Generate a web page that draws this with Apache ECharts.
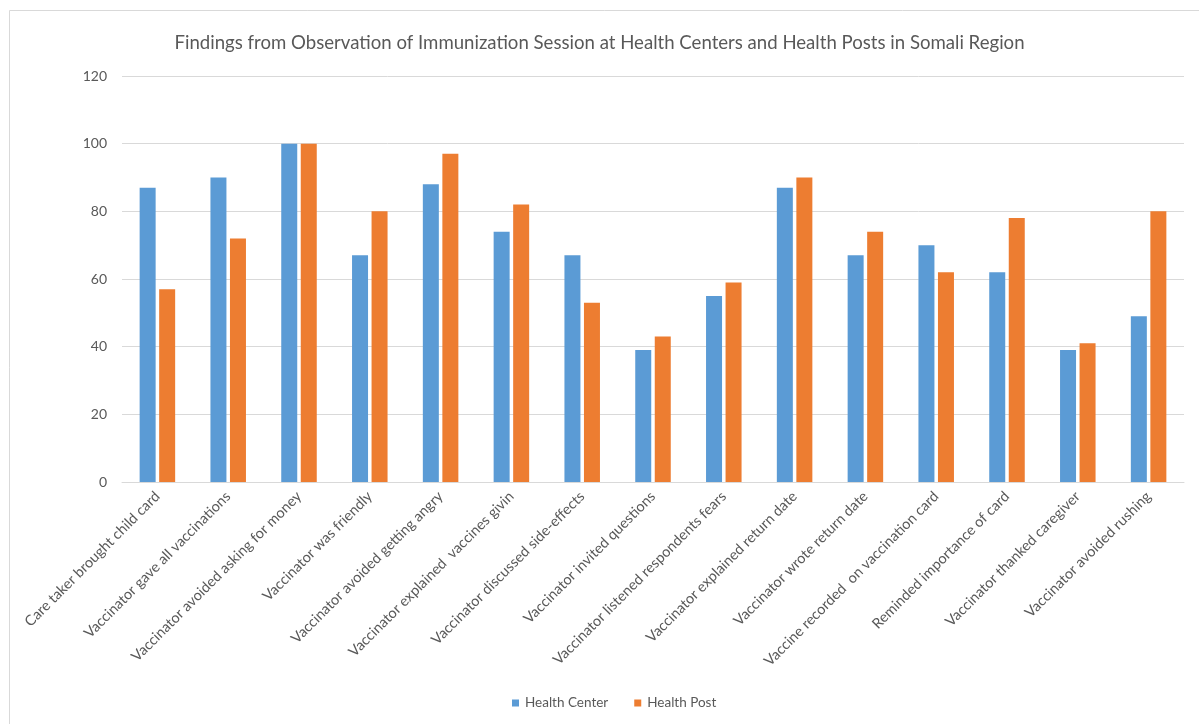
<!DOCTYPE html>
<html>
<head>
<meta charset="utf-8">
<script src="https://cdn.jsdelivr.net/npm/echarts@6/dist/echarts.min.js"></script>
<style>
html,body{margin:0;padding:0;background:#fff;}
#chart{width:1199px;height:724px;}
</style>
</head>
<body>
<div id="chart"></div>
<script>
const titleText = "Findings from Observation of Immunization Session at Health Centers and Health Posts in Somali Region";
const categories = [
  "Care taker brought child card",
  "Vaccinator gave all vaccinations",
  "Vaccinator avoided asking for money",
  "Vaccinator was friendly",
  "Vaccinator avoided getting angry",
  "Vaccinator explained  vaccines givin",
  "Vaccinator discussed side-effects",
  "Vaccinator invited questions",
  "Vaccinator listened respondents fears",
  "Vaccinator explained return date",
  "Vaccinator wrote return date",
  "Vaccine recorded  on vaccination card",
  "Reminded importance of card",
  "Vaccinator thanked caregiver",
  "Vaccinator avoided rushing"
];
const healthCenter = [87, 90, 100, 67, 88, 74, 67, 39, 55, 87, 67, 70, 62, 39, 49];
const healthPost   = [57, 72, 100, 80, 97, 82, 53, 43, 59, 90, 74, 62, 78, 41, 80];
const seriesNames = ["Health Center", "Health Post"];
const yTicks = {min: 0, max: 120, interval: 20};

const FONT = "Lato, 'Open Sans', sans-serif";
const TXT = "#595959";
const chart = echarts.init(document.getElementById('chart'));
chart.setOption({
  backgroundColor: '#ffffff',
  animation: false,
  graphic: [{
    type: 'rect', silent: true,
    shape: {x: 9.5, y: 10.5, width: 1300, height: 800},
    style: {fill: 'none', stroke: '#d9d9d9', lineWidth: 1}
  }],
  title: {
    text: titleText, left: 'center', top: 28,
    textStyle: {fontFamily: FONT, fontSize: 18.6, fontWeight: 'normal', color: TXT}
  },
  legend: {
    data: seriesNames, bottom: 9, left: 507,
    icon: 'rect', itemWidth: 7, itemHeight: 7, itemGap: 26,
    textStyle: {fontFamily: FONT, fontSize: 13.5, color: TXT, padding: [0,0,0,1]}
  },
  grid: {left: 122, right: 15, top: 76, bottom: 242, containLabel: false},
  xAxis: {
    type: 'category', data: categories,
    axisLine: {lineStyle: {color: '#d9d9d9'}},
    axisTick: {show: false},
    axisLabel: {rotate: 45, interval: 0, fontFamily: FONT, fontSize: 14.5, color: TXT, margin: 12}
  },
  yAxis: {
    type: 'value', min: yTicks.min, max: yTicks.max, interval: yTicks.interval,
    axisLine: {show: false}, axisTick: {show: false},
    splitLine: {lineStyle: {color: '#d9d9d9'}},
    axisLabel: {fontFamily: FONT, fontSize: 14, color: TXT, margin: 15, padding: [5,0,0,0]}
  },
  series: [
    {name: seriesNames[0], type: 'bar', data: healthCenter, barWidth: 16, barGap: '22%', itemStyle: {color: '#5b9bd5'}},
    {name: seriesNames[1], type: 'bar', data: healthPost, barWidth: 16, barGap: '22%', itemStyle: {color: '#ed7d31'}}
  ]
});
</script>
</body>
</html>
